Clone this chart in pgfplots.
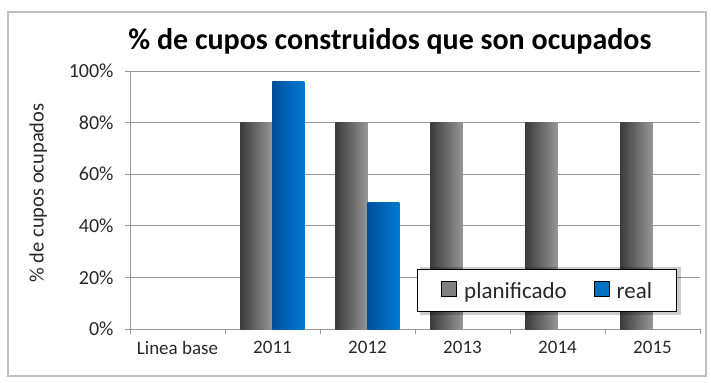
\documentclass[border=0pt]{standalone}
\usepackage{pgfplots}
\pgfplotsset{compat=1.18}
\usepackage{fontspec}
\setmainfont{Carlito}
\definecolor{barblue}{RGB}{0,122,210}
\definecolor{bardblue}{RGB}{0,80,155}
\definecolor{bargray}{RGB}{150,150,150}
\definecolor{bardgray}{RGB}{60,60,60}
\definecolor{legblue}{RGB}{0,112,192}
\definecolor{leggray}{RGB}{128,128,128}
\definecolor{gridc}{RGB}{150,150,150}
\definecolor{txt}{RGB}{40,40,40}
\begin{document}
\begin{tikzpicture}
\path[use as bounding box, fill=white] (-130bp,-54bp) rectangle (581bp,329bp);
\draw[gray!50, line width=1.2pt] (-122bp,-47bp) rectangle (576bp,317bp);
\begin{axis}[
  scale only axis,
  width=570bp, height=258bp,
  at={(0,0)}, anchor=south west,
  xmin=-0.5, xmax=5.5,
  ymin=0, ymax=100,
  axis lines*=left,
  axis line style={gridc, line width=0.8pt},
  ybar, bar width=32bp,
  xtick={0,1,2,3,4,5},
  xticklabels={Linea base,2011,2012,2013,2014,2015},
  major x tick style={draw=none},
  minor xtick={-0.5,0.5,1.5,2.5,3.5,4.5,5.5},
  minor x tick style={gridc, line width=0.8pt},
  minor tick length=5bp,
  xtick align=outside,
  ytick={0,20,40,60,80,100},
  yticklabels={0\%,20\%,40\%,60\%,80\%,100\%},
  ytick align=outside,
  major tick length=5bp,
  ytick style={gridc, line width=0.8pt},
  ymajorgrids,
  grid style={gridc, line width=0.9pt},
  tick label style={font=\fontsize{19bp}{22bp}\selectfont, text=txt},
  yticklabel style={font=\fontsize{20bp}{22bp}\selectfont, xshift=-8bp},
  /pgf/number format/assume math mode=true,
  xticklabel style={yshift=-4bp},
  ylabel={\% de cupos ocupados},
  ylabel style={at={(axis description cs:-0.161,0.527)}, anchor=center, font=\fontsize{20.5bp}{24bp}\selectfont, text=txt},
  title={\% de cupos construidos que son ocupados},
  title style={at={(axis description cs:0.456,1)}, anchor=base, yshift=16bp, font=\fontsize{30bp}{34bp}\selectfont\bfseries},
  legend style={at={(axis description cs:0.5035,0.066)}, anchor=south west,
    draw=black, line width=0.8pt, fill=white,
    inner xsep=24bp, inner ysep=12bp,
    nodes={inner sep=0pt},
    font=\fontsize{23bp}{26bp}\selectfont, text=txt,
    /tikz/column 1/.style={column sep=7bp},
    /tikz/column 2/.style={column sep=27bp},
    /tikz/column 3/.style={column sep=7bp}},
  legend columns=2,
  legend image code/.code={\fill[#1] (0bp,-6bp) rectangle (15bp,9bp);},
]
% planificado (gray)
\addplot[draw=none, bar shift=-16bp, left color=bardgray, right color=bargray, forget plot] coordinates {(1,80)};
\addplot[draw=none, bar shift=-16bp, left color=bardgray, right color=bargray, forget plot] coordinates {(2,80)};
\addplot[draw=none, bar shift=-16bp, left color=bardgray, right color=bargray, forget plot] coordinates {(3,80)};
\addplot[draw=none, bar shift=-16bp, left color=bardgray, right color=bargray, forget plot] coordinates {(4,80)};
\addplot[draw=none, bar shift=-16bp, left color=bardgray, right color=bargray, forget plot] coordinates {(5,80)};
% real (blue)
\addplot[draw=none, bar shift=16bp, left color=bardblue, right color=barblue, forget plot] coordinates {(1,96)};
\addplot[draw=none, bar shift=16bp, left color=bardblue, right color=barblue, forget plot] coordinates {(2,49)};
% legend shadow
\fill[black, opacity=0.2, xshift=3bp, yshift=-3bp] (axis description cs:0.5035,0.066) rectangle (axis description cs:0.9614,0.252);
\addlegendimage{fill=leggray}
\addlegendentry{planificado}
\addlegendimage{fill=legblue}
\addlegendentry{real}
\end{axis}
\end{tikzpicture}
\end{document}
